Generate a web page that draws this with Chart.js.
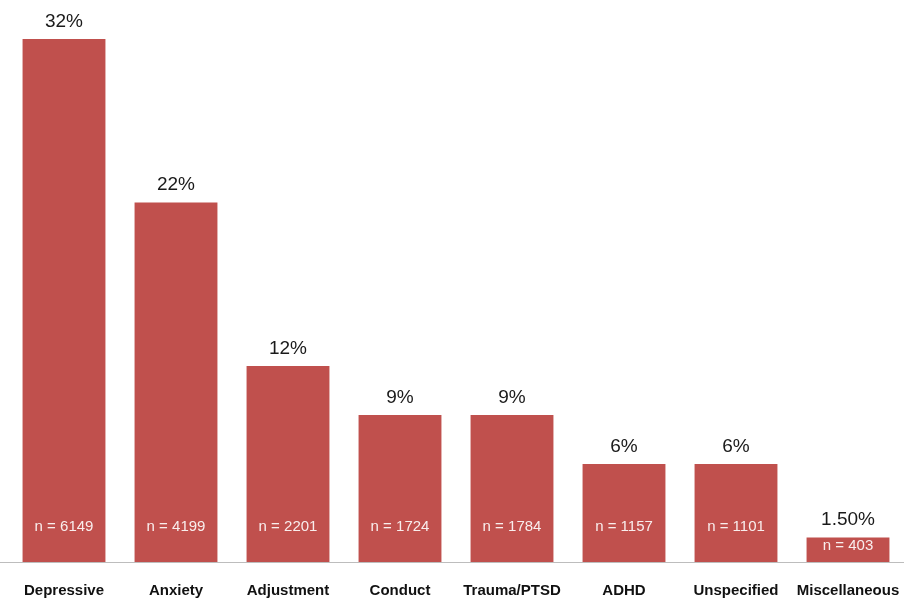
<!DOCTYPE html>
<html>
<head>
<meta charset="utf-8">
<script src="https://cdn.jsdelivr.net/npm/chart.js@4/dist/chart.umd.min.js"></script>
<style>
  html, body { margin: 0; padding: 0; background: #fff; overflow: hidden; }
  #wrap { width: 904px; height: 599px; }
</style>
</head>
<body>
<div id="wrap"><canvas id="myChart" width="904" height="599"></canvas></div>
<script>
const categories = ['Depressive', 'Anxiety', 'Adjustment', 'Conduct', 'Trauma/PTSD', 'ADHD', 'Unspecified', 'Miscellaneous'];
const percents = [32, 22, 12, 9, 9, 6, 6, 1.5];
const counts = [6149, 4199, 2201, 1724, 1784, 1157, 1101, 403];

function pctText(v) {
    return Number.isInteger(v) ? v + '%' : v.toFixed(2) + '%';
}

// percent above each bar, n = count inside near the base
const barLabels = {
    id: 'barLabels',
    afterDatasetsDraw(chart) {
        const ctx = chart.ctx;
        const meta = chart.getDatasetMeta(0);
        const base = chart.chartArea.bottom;
        ctx.save();
        ctx.textAlign = 'center';
        meta.data.forEach((bar, i) => {
            ctx.fillStyle = '#1a1a1a';
            ctx.font = '19px "Liberation Sans", Arial, sans-serif';
            ctx.textBaseline = 'alphabetic';
            ctx.fillText(pctText(percents[i]), bar.x, bar.y - 12);

            ctx.fillStyle = 'rgba(255,255,255,0.9)';
            ctx.font = '15px "Liberation Sans", Arial, sans-serif';
            ctx.textBaseline = 'middle';
            const y = Math.max(base - 35, bar.y + 8);
            ctx.fillText('n = ' + counts[i], bar.x, y);
        });
        ctx.restore();
    }
};

// grey baseline running across the full width
const baseLine = {
    id: 'baseLine',
    beforeDatasetsDraw(chart) {
        const ctx = chart.ctx;
        const y = Math.round(chart.chartArea.bottom) + 0.5;
        ctx.save();
        ctx.strokeStyle = '#bdbdbd';
        ctx.lineWidth = 1;
        ctx.beginPath();
        ctx.moveTo(0, y);
        ctx.lineTo(chart.width, y);
        ctx.stroke();
        ctx.restore();
    }
};

const ctx = document.getElementById('myChart').getContext('2d');
new Chart(ctx, {
    type: 'bar',
    data: {
        labels: categories,
        datasets: [{
            data: percents,
            backgroundColor: '#c0504d',
            barPercentage: 1,
            categoryPercentage: 0.74
        }]
    },
    options: {
        responsive: false,
        animation: false,
        layout: { padding: { top: 39, left: 8, right: 0, bottom: 0 } },
        plugins: {
            legend: { display: false },
            tooltip: { enabled: false }
        },
        scales: {
            x: {
                grid: { display: false },
                border: { display: false },
                afterFit(scale) {
                    scale.height = 37;
                    scale.paddingLeft = 0;
                    scale.paddingRight = 0;
                },
                ticks: {
                    color: '#111',
                    padding: 12,
                    autoSkip: false,
                    maxRotation: 0,
                    font: { family: '"Liberation Sans", Arial, sans-serif', size: 15, weight: 'bold' }
                }
            },
            y: {
                display: false,
                min: 0,
                max: 32
            }
        }
    },
    plugins: [baseLine, barLabels]
});
</script>
</body>
</html>
